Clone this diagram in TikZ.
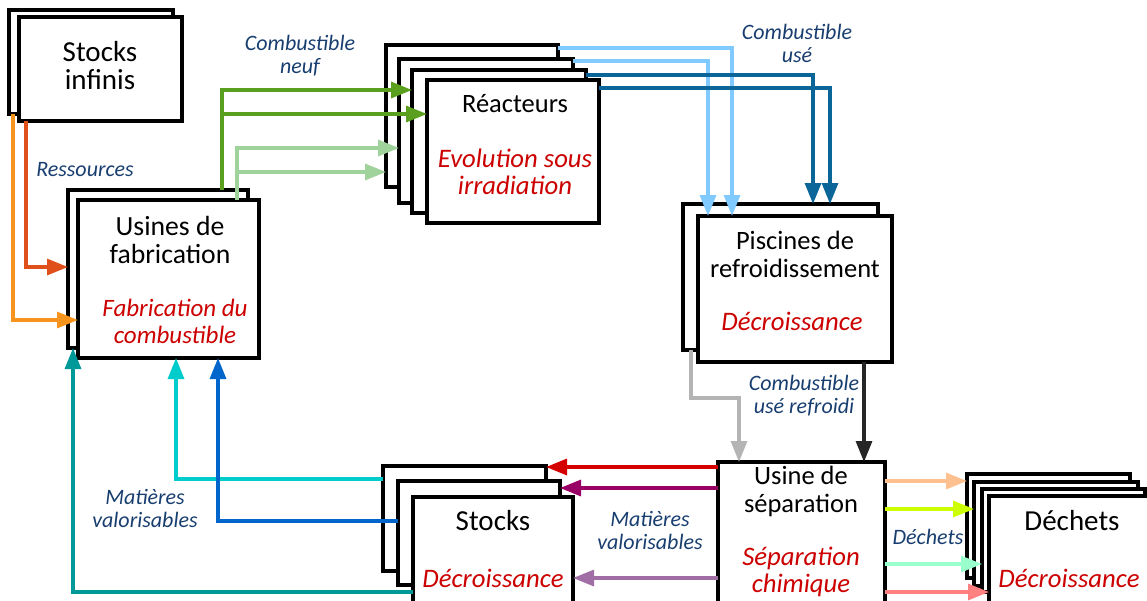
\documentclass[tikz,border=0pt]{standalone}
\usepackage{fontspec}
\setmainfont{Carlito}
\usetikzlibrary{arrows.meta,calc}
\definecolor{cOrange}{RGB}{247,148,29}
\definecolor{cRedOr}{RGB}{224,80,27}
\definecolor{cGreen}{RGB}{90,160,30}
\definecolor{cLGreen}{RGB}{160,210,155}
\definecolor{cLBlue}{RGB}{128,202,255}
\definecolor{cDBlue}{RGB}{10,102,153}
\definecolor{cGrey}{RGB}{180,180,180}
\definecolor{cRed}{RGB}{212,0,0}
\definecolor{cPurple}{RGB}{153,0,102}
\definecolor{cLPurple}{RGB}{160,110,165}
\definecolor{cCyan}{RGB}{0,204,204}
\definecolor{cBlue}{RGB}{0,102,204}
\definecolor{cTeal}{RGB}{0,153,153}
\definecolor{cPeach}{RGB}{255,192,143}
\definecolor{cYG}{RGB}{204,255,0}
\definecolor{cMint}{RGB}{153,255,204}
\definecolor{cSalmon}{RGB}{255,128,128}
\definecolor{cTxtRed}{RGB}{204,0,0}
\definecolor{cTxtBlue}{RGB}{24,62,112}
\tikzset{
  bx/.style={draw=black,fill=white,line width=3.4pt,inner sep=0pt,outer sep=0pt,rectangle},
  ar/.style={line width=3.2pt,-{Triangle[length=21pt,width=16pt]}},
  ttl/.style={align=center,inner sep=0pt,text=black,font=\fontsize{26.5}{28}\selectfont},
  ttlL/.style={ttl,font=\fontsize{29}{28}\selectfont},
  sub/.style={align=center,inner sep=0pt,text=cTxtRed,font=\fontsize{26.7}{27}\selectfont\itshape},
  lbl/.style={align=center,inner sep=0pt,text=cTxtBlue,font=\fontsize{22}{23}\selectfont\itshape},
}
\newcommand\mkbox[5]{\node[bx,anchor=north west,minimum width={(#4-#2)*1pt},minimum height={(#5-#3)*1pt}] (#1) at (#2,#3) {};}
\begin{document}
\begin{tikzpicture}[x=1pt,y=-1pt]
\useasboundingbox (0,0) rectangle (1147,600);
\clip (0,0) rectangle (1147,600);
% boxes
\mkbox{sinfB}{9}{10}{173}{114}
\mkbox{sinfF}{19}{17}{182}{121}
\mkbox{usB}{68}{190}{248}{348}
\mkbox{usF}{78}{200}{259}{358}
\mkbox{rA}{386}{45}{558}{187}
\mkbox{rB}{399}{59}{573}{203}
\mkbox{rC}{412}{70}{586}{213}
\mkbox{rD}{427}{80}{599}{223}
\mkbox{piB}{683}{204}{878}{350}
\mkbox{piF}{698}{216}{892}{362}
\mkbox{sep}{718}{462}{885}{640}
\mkbox{stA}{383}{466}{546}{571}
\mkbox{stB}{398}{481}{560}{585}
\mkbox{stC}{413}{497}{573}{640}
\mkbox{dA}{967}{474}{1130}{578}
\mkbox{dB}{974}{482}{1138}{586}
\mkbox{dC}{982}{489}{1145}{592}
\mkbox{dD}{989}{496}{1160}{640}
% box texts
\node[ttlL] (tSinf) at (100,66) {Stocks\\infinis};
\node[ttl,font=\fontsize{27.7}{28}\selectfont] (tUs) at (170,240) {Usines de\\fabrication};
\node[sub,font=\fontsize{25}{27}\selectfont\itshape] (sUs) at (175,321) {Fabrication du\\combustible};
\node[ttl] (tR) at (515,104) {Réacteurs};
\node[sub] (sR) at (515,172) {Evolution sous\\irradiation};
\node[ttl] (tPi) at (795,254) {Piscines de\\refroidissement};
\node[sub] (sPi) at (792,321) {Décroissance};
\node[ttl] (tSep) at (801,491) {Usine de\\séparation};
\node[sub] (sSep) at (801,572) {Séparation\\chimique};
\node[ttlL] (tSt) at (493,521) {Stocks};
\node[sub] (sSt) at (493,578) {Décroissance};
\node[ttlL] (tD) at (1072,521) {Déchets};
\node[sub] (sD) at (1069,578) {Décroissance};
% labels
\node[lbl] (lRes) at (85,170) {Ressources};
\node[lbl] (lNeuf) at (300,56) {Combustible\\neuf};
\node[lbl] (lUse) at (797,43) {Combustible\\usé};
\node[lbl] (lRef) at (804,396) {Combustible\\usé refroidi};
\node[lbl] (lMatL) at (145,508) {Matières\\valorisables};
\node[lbl] (lMatM) at (650,530) {Matières\\valorisables};
\node[lbl] (lDech) at (928,537) {Déchets};
% connectors
\draw[ar,cOrange] ([xshift=4pt]sinfB.south west) |- ([yshift=-120pt]usF.north west);
\draw[ar,cRedOr] ([xshift=7pt]sinfF.south west) |- ([yshift=-77pt]usB.north west);
\draw[ar,cGreen] ([xshift=154pt]usB.north west) |- ([yshift=-20pt]rC.north west);
\draw[ar,cGreen] ([xshift=154pt]usB.north west) |- ([yshift=-34pt]rD.north west);
\draw[ar,cLGreen] ([xshift=159pt]usF.north west) |- ([yshift=-89pt]rB.north west);
\draw[ar,cLGreen] ([xshift=159pt]usF.north west) |- ([yshift=-127pt]rA.north west);
\draw[ar,cLBlue] ([yshift=-3pt]rA.north east) -| ([xshift=34pt]piF.north west);
\draw[ar,cLBlue] ([yshift=-2pt]rB.north east) -| ([xshift=10pt]piF.north west);
\draw[ar,cDBlue] ([yshift=-5pt]rC.north east) -| ([xshift=130pt]piB.north west);
\draw[ar,cDBlue] ([yshift=-8pt]rD.north east) -| ([xshift=147pt]piB.north west);
\draw[ar,cGrey] ([xshift=8pt]piB.south west) -- ++(0,48) -| ([xshift=21pt]sep.north west);
\draw[ar,black!85] ([xshift=-28pt]piF.south east) -- ([xshift=-21pt]sep.north east);
\draw[ar,cRed] ([yshift=-5pt]sep.north west) -- ([yshift=-1pt]stA.north east);
\draw[ar,cPurple] ([yshift=-26pt]sep.north west) -- ([yshift=-7pt]stB.north east);
\draw[ar,cLPurple] ([yshift=-116pt]sep.north west) -- ([yshift=-81pt]stC.north east);
\draw[ar,cCyan] ([yshift=-13pt]stA.north west) -| ([xshift=98pt]usF.south west);
\draw[ar,cBlue] ([yshift=-40pt]stB.north west) -| ([xshift=140pt]usF.south west);
\draw[ar,cTeal] ([yshift=-95pt]stC.north west) -| ([xshift=5pt]usB.south west);
\draw[ar,cPeach] ([yshift=-19pt]sep.north east) -- ([yshift=-7pt]dA.north west);
\draw[ar,cYG] ([yshift=-47pt]sep.north east) -- ([yshift=-27pt]dB.north west);
\draw[ar,cMint] ([yshift=-102pt]sep.north east) -- ([yshift=-75pt]dC.north west);
\draw[ar,cSalmon] ([yshift=-130pt]sep.north east) -- ([yshift=-96pt]dD.north west);
\end{tikzpicture}
\end{document}
